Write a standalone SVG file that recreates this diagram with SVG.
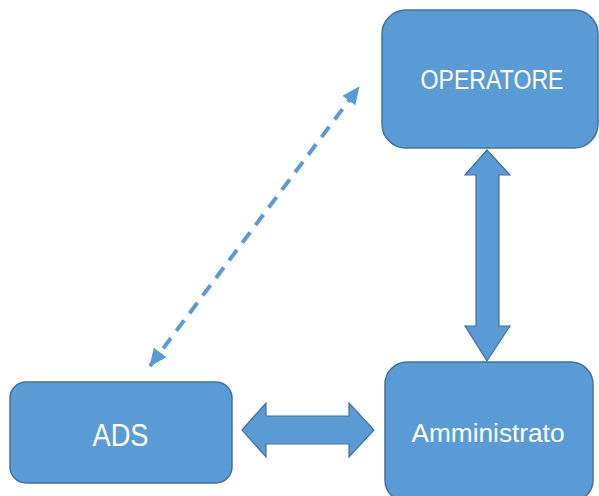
<svg xmlns="http://www.w3.org/2000/svg" width="599" height="496" viewBox="0 0 599 496">
<style>
.box{fill:#5B9BD5;stroke:#41719C;stroke-width:1.5}
.lbl{fill:#FFFFFF;font-family:"Liberation Sans","Open Sans",sans-serif;text-anchor:middle}
.blk{fill:#5B9BD5;stroke:#41719C;stroke-width:1.2;stroke-linejoin:miter}
.dash{fill:none;stroke:#5B9BD5;stroke-width:4;stroke-dasharray:13 9}
</style>
<defs>
<marker id="ah" viewBox="0 0 18 16" refX="17" refY="8" markerWidth="18" markerHeight="16" markerUnits="userSpaceOnUse" orient="auto-start-reverse">
<path d="M0,0 L18,8 L0,16 z" fill="#5B9BD5"/>
</marker>
</defs>
<rect width="599" height="496" fill="#FFFFFF"/>
<g id="connectors">
<line class="dash" x1="150" y1="366" x2="359" y2="87" marker-start="url(#ah)" marker-end="url(#ah)"/>
<polygon class="blk" points="487,150 510,175 499,175 499,326 510,326 487,361 465,326 476,326 476,175 465,175"/>
<polygon class="blk" points="242,430 266,403 266,416 349,416 349,403 374,430 349,457 349,444 266,444 266,457"/>
</g>
<g id="operatore">
<rect class="box" x="382" y="10" width="216" height="138" rx="24" ry="24"/>
<text class="lbl" x="492" y="89" font-size="27" textLength="143" lengthAdjust="spacingAndGlyphs">OPERATORE</text>
</g>
<g id="ads">
<rect class="box" x="10" y="382" width="222" height="101" rx="16" ry="16"/>
<text class="lbl" x="120.5" y="446" font-size="32" textLength="56" lengthAdjust="spacingAndGlyphs">ADS</text>
</g>
<g id="amministrato">
<rect class="box" x="385" y="362" width="208" height="140" rx="22" ry="22"/>
<text class="lbl" x="488" y="442" font-size="26" textLength="153" lengthAdjust="spacingAndGlyphs">Amministrato</text>
</g>
</svg>
